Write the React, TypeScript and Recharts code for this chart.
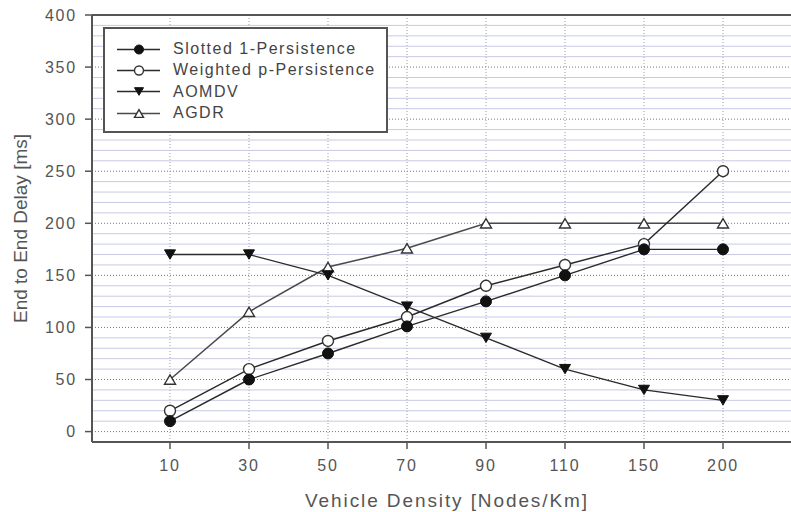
import React from 'react';
import { LineChart, Line, XAxis, YAxis, CartesianGrid, ReferenceLine, Legend, Label } from 'recharts';

const FONT = '"Liberation Sans", Arial, sans-serif';

// vehicle density categories (nodes/km)
const densities = ['10', '30', '50', '70', '90', '110', '150', '200'];

// end to end delay [ms]
const slotted = [10, 50, 75, 101, 125, 150, 175, 175];
const weighted = [20, 60, 87, 110, 140, 160, 180, 250];
const aomdv = [170, 170, 150, 120, 90, 60, 40, 30];
const agdr = [50, 115, 158, 176, 200, 200, 200, 200];

const yTicks = [0, 50, 100, 150, 200, 250, 300, 350, 400];
const minorTicks = [
    10, 20, 30, 40, 60, 70, 80, 90, 110, 120, 130, 140, 160, 170, 180, 190,
    210, 220, 230, 240, 260, 270, 280, 290, 310, 320, 330, 340, 360, 370, 380, 390,
];

type MarkerKind = 'filledCircle' | 'openCircle' | 'filledDown' | 'openUp';

const seriesList: { key: string; name: string; kind: MarkerKind; stroke: string; width: number }[] = [
    { key: 'agdr', name: 'AGDR', kind: 'openUp', stroke: '#4a4a4a', width: 1.5 },
    { key: 'aomdv', name: 'AOMDV', kind: 'filledDown', stroke: '#2a2a2a', width: 1.4 },
    { key: 'weighted', name: 'Weighted p-Persistence', kind: 'openCircle', stroke: '#2a2a2a', width: 1.4 },
    { key: 'slotted', name: 'Slotted 1-Persistence', kind: 'filledCircle', stroke: '#2a2a2a', width: 1.4 },
];

const legendOrder = ['slotted', 'weighted', 'aomdv', 'agdr'];

const data = densities.map((d, i) => ({
    density: d,
    slotted: slotted[i],
    weighted: weighted[i],
    aomdv: aomdv[i],
    agdr: agdr[i],
}));

const Marker = ({ kind, cx, cy, s }: { kind: MarkerKind; cx: number; cy: number; s: number }) => {
    if (cx == null || cy == null) return null;
    switch (kind) {
        case 'filledCircle':
            return <circle cx={cx} cy={cy} r={s * 0.5} fill="#111" stroke="#111" strokeWidth={1} />;
        case 'openCircle':
            return <circle cx={cx} cy={cy} r={s * 0.5} fill="#fff" stroke="#333" strokeWidth={1.4} />;
        case 'filledDown': {
            const h = s * 0.85;
            const pts = `${cx - s / 2},${cy - h / 2} ${cx + s / 2},${cy - h / 2} ${cx},${cy + h / 2}`;
            return <polygon points={pts} fill="#111" stroke="#111" strokeWidth={1} />;
        }
        case 'openUp': {
            const h = s * 0.85;
            const pts = `${cx - s / 2},${cy + h / 2} ${cx + s / 2},${cy + h / 2} ${cx},${cy - h / 2}`;
            return <polygon points={pts} fill="#fff" stroke="#333" strokeWidth={1.4} />;
        }
    }
    return null;
};

const makeDot = (kind: MarkerKind) => (props: any) => (
    <Marker key={`${kind}-${props.index}`} kind={kind} cx={props.cx} cy={props.cy} s={11} />
);

const LegendBox = () => (
    <div
        style={{
            width: 285,
            height: 106,
            boxSizing: 'border-box',
            border: '2px solid #555',
            background: '#fff',
            paddingTop: 9.5,
            fontFamily: FONT,
        }}
    >
        {legendOrder.map(k => {
            const s = seriesList.find(x => x.key === k)!;
            return (
                <div key={k} style={{ display: 'flex', alignItems: 'center', height: 21.3 }}>
                    <svg width={68} height={21} style={{ display: 'block', flex: 'none' }}>
                        <line x1={12} x2={55} y1={10.5} y2={10.5} stroke={s.stroke} strokeWidth={1.3} />
                        <Marker kind={s.kind} cx={34} cy={10.5} s={9} />
                    </svg>
                    <span style={{ fontSize: 16, color: '#444', letterSpacing: 1.5, whiteSpace: 'nowrap' }}>
                        {s.name}
                    </span>
                </div>
            );
        })}
    </div>
);

const YTitle = (props: any) => {
    const vb = props.viewBox || {};
    const cx = 27;
    const cy = vb.y + vb.height / 2;
    return (
        <text
            x={cx}
            y={cy}
            transform={`rotate(-90 ${cx} ${cy})`}
            textAnchor="middle"
            fill="#555"
            fontSize={19}
            fontFamily={FONT}
        >
            End to End Delay [ms]
        </text>
    );
};

const XTitle = (props: any) => {
    const vb = props.viewBox || {};
    return (
        <text
            x={vb.x + vb.width / 2}
            y={vb.y + 65}
            textAnchor="middle"
            fill="#555"
            fontSize={19}
            letterSpacing={1.9}
            fontFamily={FONT}
        >
            Vehicle Density [Nodes/Km]
        </text>
    );
};

export default function App() {
    return (
        <div
            style={{
                position: 'fixed',
                left: 0,
                top: 0,
                width: 791,
                height: 512,
                overflow: 'hidden',
                background: '#fff',
                fontFamily: FONT,
            }}
        >
            <LineChart width={830} height={512} data={data} margin={{ top: 15, right: 28, bottom: 0, left: 0 }}>
                {minorTicks.map(v => (
                    <ReferenceLine key={`m-${v}`} y={v} stroke="#c8c9e4" strokeWidth={1} />
                ))}
                <CartesianGrid vertical={false} stroke="#777" strokeDasharray="1 2" />
                <CartesianGrid horizontal={false} stroke="#9a9ab0" strokeDasharray="1 2" />
                <ReferenceLine y={400} stroke="#555" strokeWidth={2} />
                <XAxis
                    dataKey="density"
                    type="category"
                    scale="point"
                    padding={{ left: 78, right: 79 }}
                    height={70}
                    interval={0}
                    tickSize={7}
                    tickMargin={11}
                    axisLine={{ stroke: '#555', strokeWidth: 2 }}
                    tickLine={{ stroke: '#555', strokeWidth: 1.5 }}
                    tick={{ fill: '#555', fontSize: 16, letterSpacing: 1.8, fontFamily: FONT }}
                >
                    <Label content={XTitle} />
                </XAxis>
                <YAxis
                    type="number"
                    domain={[-10, 400]}
                    ticks={yTicks}
                    interval={0}
                    width={92}
                    tickSize={7}
                    tickMargin={8}
                    axisLine={{ stroke: '#555', strokeWidth: 2 }}
                    tickLine={{ stroke: '#555', strokeWidth: 1.5 }}
                    tick={{ fill: '#555', fontSize: 16, letterSpacing: 1.8, fontFamily: FONT }}
                >
                    <Label content={YTitle} />
                </YAxis>
                <Legend
                    layout="vertical"
                    align="center"
                    verticalAlign="middle"
                    content={LegendBox}
                    wrapperStyle={{ top: 27, left: 103, width: 285, height: 106 }}
                />
                {seriesList.map(s => (
                    <Line
                        key={s.key}
                        type="linear"
                        dataKey={s.key}
                        name={s.name}
                        stroke={s.stroke}
                        strokeWidth={s.width}
                        dot={makeDot(s.kind)}
                        activeDot={false}
                        isAnimationActive={false}
                    />
                ))}
            </LineChart>
        </div>
    );
}
